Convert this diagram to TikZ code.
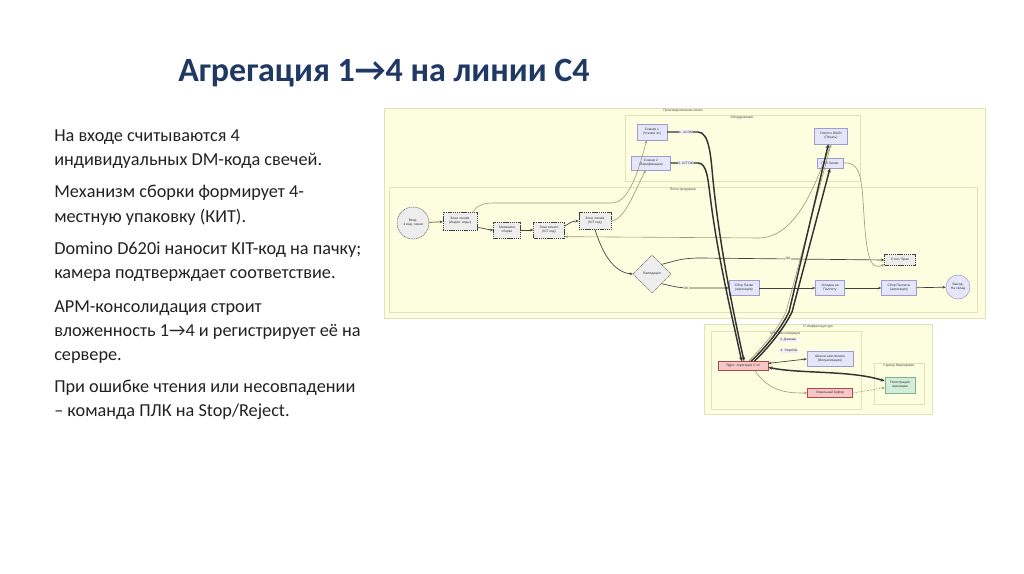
\documentclass[tikz,border=0pt]{standalone}
\usepackage{fontspec}
\setmainfont{Carlito}
\newfontfamily\dfont{Liberation Sans}
\newfontfamily\symfont{DejaVu Sans}
\usetikzlibrary{shapes.geometric,arrows.meta,calc}
\definecolor{titleblue}{HTML}{1F3864}
\definecolor{bodytext}{HTML}{222222}
\definecolor{textdark}{HTML}{333333}
\definecolor{contfill}{HTML}{FDFDE0}
\definecolor{contline}{HTML}{E2E2B8}
\definecolor{boxfill}{HTML}{E6E6FA}
\definecolor{boxline}{HTML}{9C9CD0}
\definecolor{grayfill}{HTML}{EDEDED}
\definecolor{redfill}{HTML}{F7C6C6}
\definecolor{redline}{HTML}{B04848}
\definecolor{greenfill}{HTML}{D3EDD8}
\definecolor{greenline}{HTML}{7DB38A}
\definecolor{thinline}{HTML}{9A9A78}
\begin{document}
\begin{tikzpicture}[x=0.75pt,y=-0.75pt,
  sz/.style 2 args={minimum width=#1*0.75pt,minimum height=#2*0.75pt},
  tiny/.style={font=\dfont\fontsize{2.5}{3}\selectfont,text=textdark,align=center,inner sep=0.5pt},
  pbox/.style={tiny,draw=boxline,fill=boxfill,line width=0.35pt},
  dbox/.style={tiny,draw=black!75,fill=grayfill,line width=0.4pt,dash pattern=on 0.9pt off 0.5pt},
  rbox/.style={tiny,draw=redline,fill=redfill,line width=0.4pt},
  gbox/.style={tiny,draw=greenline,fill=greenfill,line width=0.4pt},
  cont/.style={draw=contline,fill=contfill,line width=0.6pt},
  clabel/.style={tiny,text=black!70},
  elabel/.style={tiny,fill=boxfill!70,inner sep=0.4pt},
  olabel/.style={tiny,fill=contfill,inner sep=0.4pt},
  tip/.style={-{Stealth[length=2.4pt,width=2pt]}},
  flow/.style={draw=black!75,line width=0.5pt,tip},
  light/.style={draw=thinline,line width=0.45pt,tip},
  heavy/.style={draw=black!80,line width=1.1pt,-{Stealth[length=3pt,width=2.6pt]}},
  body/.style={font=\fontsize{13.7}{16}\selectfont,text=bodytext,anchor=base west,inner sep=0pt}
]
\useasboundingbox[fill=white] (0,0) rectangle (1024,574);

% title and text
\node[anchor=base west,inner sep=0pt,text=titleblue,font=\fontsize{25.5}{30}\selectfont\bfseries] (title) at (178,82) {Агрегация 1→4 на линии С4};
\node[body] (l1) at (54,142) {На входе считываются 4};
\node[body] (l2) at (54,166) {индивидуальных DM-кода свечей.};
\node[body] (l3) at (54,198) {Механизм сборки формирует 4-};
\node[body] (l4) at (54,222) {местную упаковку (КИТ).};
\node[body] (l5) at (54,254) {Domino D620i наносит KIT-код на пачку;};
\node[body] (l6) at (54,278) {камера подтверждает соответствие.};
\node[body] (l7) at (54,312) {АРМ-консолидация строит};
\node[body] (l8) at (54,336) {вложенность 1→4 и регистрирует её на};
\node[body] (l9) at (54,360) {сервере.};
\node[body] (l10) at (54,392) {При ошибке чтения или несовпадении};
\node[body] (l11) at (54,416) {– команда ПЛК на Stop/Reject.};

% containers
\draw[cont] (384,108) rectangle (985,318);
\draw[cont] (625,115) rectangle (860,181);
\draw[cont] (389,187) rectangle (977,312);
\draw[cont] (704,324) rectangle (932,414);
\draw[cont] (711,331) rectangle (861,409);
\draw[cont] (874,363) rectangle (924,404);
\node[clabel] (cl1) at (683,111) {Производственная линия};
\node[clabel] (cl2) at (742,118) {Оборудование};
\node[clabel] (cl3) at (683,190) {Поток продукции};
\node[clabel] (cl4) at (818,327) {IT Инфраструктура};
\node[clabel] (cl5) at (785,334) {АРМ Консолидация};
\node[clabel] (cl6) at (899,366) {Сервер Маркировки};

% nodes
\node[pbox,sz={30}{16}] (s1) at (652,132) {Сканер 1\\(Чтение 4x)};
\node[pbox,sz={39}{14}] (s2) at (651,163) {Сканер 2\\(Верификация)};
\node[pbox,sz={33}{16}] (dom) at (831,136) {Domino D620i\\(Печать)};
\node[pbox,sz={26}{10}] (plk) at (830,163) {ПЛК Линии};
\node[tiny,circle,draw=black!60,fill=grayfill,line width=0.4pt,dash pattern=on 0.9pt off 0.5pt,minimum size=24pt] (in) at (413,223) {Вход:\\4 инд. пачки};
\node[dbox,sz={34}{18}] (zr1) at (460,221) {Зона чтения\\(Индив. коды)};
\node[dbox,sz={27}{16}] (mech) at (507,230) {Механизм\\сборки};
\node[dbox,sz={31}{16}] (zp) at (549,230) {Зона печати\\(KIT код)};
\node[dbox,sz={32}{17}] (zr2) at (595,221) {Зона чтения\\(KIT код)};
\node[tiny,diamond,draw=black!60,fill=grayfill,line width=0.4pt,dash pattern=on 0.9pt off 0.5pt,minimum size=28.5pt,inner sep=0pt] (val) at (652,274) {Валидация};
\node[dbox,sz={31}{11}] (stop) at (900,260) {Стоп / Брак};
\node[pbox,sz={30}{15}] (sp) at (744,288) {Сбор Пачки\\(агрегация)};
\node[pbox,sz={29}{15}] (uk) at (830,288) {Укладка на\\Паллету};
\node[pbox,sz={35}{15}] (spal) at (899,288) {Сбор Паллеты\\(агрегация)};
\node[tiny,circle,draw=boxline,fill=boxfill,line width=0.4pt,minimum size=18pt] (out) at (958,287) {Выход:\\На склад};
\node[rbox,sz={50}{9}] (core) at (743,366) {Ядро: Агрегация 1{\symfont→}4};
\node[pbox,sz={46}{15}] (scale) at (830,359) {Шкала заполнения\\(Визуализация)};
\node[rbox,sz={45}{9}] (buf) at (830,393) {Локальный Буфер};
\node[gbox,sz={30}{16}] (reg) at (900,385) {Регистрация\\агрегации};

% flow edges
\draw[flow] (in) -- (zr1);
\draw[flow] ([yshift=2pt]zr1.south east) .. controls (485,228) and (487,230) .. (mech.west);
\draw[flow] (mech) -- (zp);
\draw[flow] ([yshift=3pt]zp.east) .. controls (570,223) and (572,221) .. (zr2.west);
\draw[flow] (zr2.south) .. controls (600,245) and (610,272) .. (val.west);
\draw[flow] (val.north east) .. controls (672,262) and (680,258) .. (700,258) -- (stop.west);
\draw[flow] (val.south east) .. controls (672,286) and (678,288) .. (690,288) -- (sp.west);
\node[olabel] (ng) at (788,258) {NG};
\node[olabel] (ok) at (686,288) {OK};
\draw[flow] (sp) -- (uk);
\draw[flow] (uk) -- (spal);
\draw[flow] (spal) -- (out);

% light edges
\draw[light] ([xshift=-3pt]zr1.north east) .. controls (478,204) and (485,203) .. (495,203) -- (612,203) .. controls (630,203) and (640,165) .. ([xshift=-4pt]s1.south);
\draw[light] (zr2.east) .. controls (625,220) and (635,190) .. ([xshift=-4pt]s2.south);
\draw[light] (dom.south) .. controls (818,175) and (800,236) .. (760,238) -- ([yshift=-5pt]zp.east);
\draw[light] (plk.east) .. controls (858,162) and (861,172) .. (863,200) .. controls (866,250) and (868,272) .. ([yshift=1pt]stop.south west);

% heavy edges
\draw[heavy] (s1.east) -- (698,132) .. controls (710,132) and (711,160) .. (713,180) .. controls (720,250) and (735,320) .. ([xshift=0.8pt]core.north);
\draw[heavy] (s2.east) -- (698,163) .. controls (707,163) and (708,180) .. (710,195) .. controls (718,260) and (733,320) .. ([xshift=-1pt]core.north);
\node[elabel] (e1) at (686,132) {1. 4x DM};
\node[elabel] (e2) at (686,163) {2. KIT DM};
\draw[draw=thinline,line width=0.45pt,tip] ([xshift=4pt]core.north) .. controls (765,345) and (778,328) .. (786,312) -- (dom.south);
\draw[heavy] ([xshift=6pt]core.north) .. controls (768,345) and (781,328) .. (789,312) -- ([xshift=-2pt]dom.south);
\draw[heavy] ([xshift=8.5pt]core.north) .. controls (771,345) and (784,328) .. (792,312) -- (plk.south);
\node[elabel] (e3) at (788,340) {3. Данные};
\node[elabel] (e4) at (789,351) {4. Stop/NG};

% IT edges
\draw[flow,{Stealth[length=2.4pt,width=2pt]}-{Stealth[length=2.4pt,width=2pt]}] ([yshift=2pt]core.east) -- (scale.west);
\draw[heavy,{Stealth[length=3pt,width=2.6pt]}-{Stealth[length=3pt,width=2.6pt]}] ([yshift=-1pt]core.east) .. controls (800,374) and (850,370) .. ([yshift=3pt]reg.west);
\draw[light] ([xshift=9pt]core.south) .. controls (770,393) and (790,393) .. (buf.west);
\draw[light,dash pattern=on 1.2pt off 1pt] (buf.east) -- ([yshift=-2pt]reg.west);
\end{tikzpicture}
\end{document}
